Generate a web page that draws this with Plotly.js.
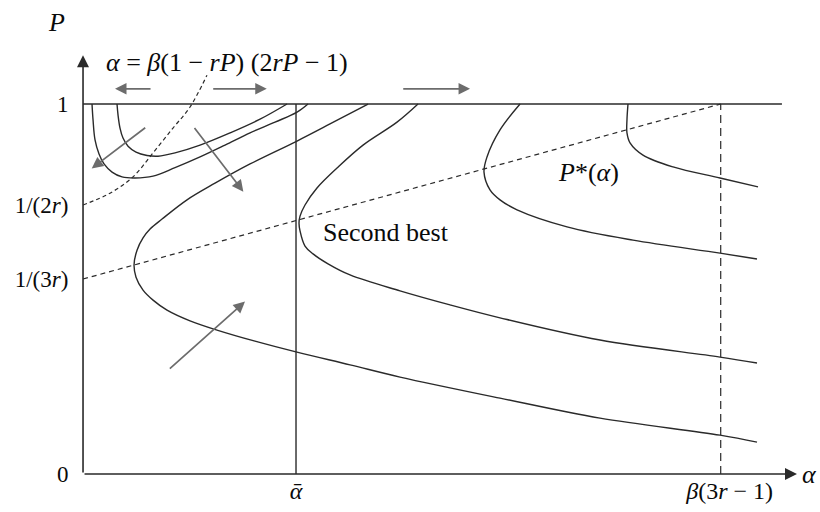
<!DOCTYPE html>
<html>
<head>
<meta charset="utf-8">
<script src="https://cdn.plot.ly/plotly-3.0.1.min.js"></script>
<style>
  html, body { margin: 0; padding: 0; background: #fff; }
  #chart { width: 820px; height: 512px; }
</style>
</head>
<body>
<div id="chart"></div>
<script>
// Reference levels on the axes
const alphaBar = 0.334;      // ᾱ
const alphaHigh = 1.0;       // β(3r − 1)
const pHalf = 0.727;         // 1/(2r)
const pThird = 0.527;        // 1/(3r)
const topLineEnd = 1.096;

const yTickVals = [0, pThird, pHalf, 1];
const yTickText = ['0', '1/(3<i>r</i>)', '1/(2<i>r</i>)', '1'];
const xTickVals = [alphaBar, alphaHigh];
const xTickText = ['<i>ᾱ</i>', '&nbsp;&nbsp;&nbsp;<i>β</i>(3<i>r</i> − 1)'];

// Threshold curve α = β(1 − rP)(2rP − 1)
const thrX = [0, 0.0423, 0.0784, 0.1098, 0.1411, 0.1678, 0.1944];
const thrP = [0.727, 0.759, 0.803, 0.868, 0.935, 0.992, 1.078];

// Iso-curves, each listed from its end on P = 1
const uOuterX = [0.0141, 0.0157, 0.0188, 0.0251, 0.0329, 0.0455, 0.0612, 0.0815, 0.1098, 0.1443, 0.1835, 0.2227, 0.2619, 0.3011, 0.3356, 0.3528];
const uOuterP = [1.0, 0.957, 0.903, 0.865, 0.838, 0.816, 0.803, 0.800, 0.805, 0.828, 0.857, 0.889, 0.922, 0.951, 0.978, 1.0];

const uInnerX = [0.0533, 0.0549, 0.0580, 0.0627, 0.0706, 0.0831, 0.1004, 0.1176, 0.1443, 0.1835, 0.2305, 0.2776, 0.3199];
const uInnerP = [1.0, 0.970, 0.935, 0.908, 0.886, 0.870, 0.861, 0.859, 0.868, 0.889, 0.922, 0.959, 1.0];

const curveCX = [0.4469, 0.3873, 0.3356, 0.2619, 0.2070, 0.1631, 0.1239, 0.1051, 0.0941, 0.0847, 0.0800, 0.0831, 0.0941, 0.1098, 0.1317, 0.1678, 0.2101, 0.2697, 0.3340, 0.4187, 0.4971, 0.6539, 0.8107, 0.9989, 1.0569];
const curveCP = [1.0, 0.946, 0.900, 0.838, 0.786, 0.741, 0.689, 0.662, 0.638, 0.605, 0.565, 0.532, 0.497, 0.470, 0.443, 0.414, 0.389, 0.359, 0.330, 0.295, 0.262, 0.205, 0.151, 0.105, 0.086];

const curveDX = [0.5253, 0.4924, 0.4391, 0.3983, 0.3669, 0.3481, 0.3403, 0.3387, 0.3403, 0.3481, 0.3607, 0.3842, 0.4187, 0.4971, 0.5755, 0.6539, 0.8107, 0.9989, 1.0569];
const curveDP = [1.0, 0.951, 0.889, 0.827, 0.773, 0.727, 0.697, 0.678, 0.657, 0.616, 0.595, 0.568, 0.538, 0.495, 0.457, 0.422, 0.362, 0.316, 0.300];

const curveEX = [0.6853, 0.6539, 0.6335, 0.6288, 0.6382, 0.6539, 0.6806, 0.7590, 0.8625, 0.9989, 1.0569];
const curveEP = [1.0, 0.930, 0.857, 0.816, 0.768, 0.741, 0.714, 0.668, 0.632, 0.597, 0.581];

const curveFX = [0.8546, 0.8530, 0.8530, 0.8578, 0.8781, 0.9252, 0.9989, 1.0585];
const curveFP = [1.0, 0.957, 0.922, 0.895, 0.862, 0.830, 0.800, 0.776];

// Direction-of-motion arrows: [tailX, tailP, headX, headP]
const flowArrows = [
  [0.1082, 1.041, 0.0502, 1.041],
  [0.2018, 1.041, 0.2881, 1.041],
  [0.4998, 1.041, 0.6069, 1.041],
  [0.0999, 0.939, 0.0136, 0.826],
  [0.1730, 0.939, 0.2514, 0.763],
  [0.1338, 0.281, 0.2540, 0.466]
];

const ink = '#2a2a2a';
const textInk = '#0a0a0a';
const serif = '"Liberation Serif", "Times New Roman", "DejaVu Serif", serif';

function solid(x, y, shape) {
  return { x, y, type: 'scatter', mode: 'lines', hoverinfo: 'skip',
           line: { color: ink, width: 1.4, shape: shape || 'spline', smoothing: 1 } };
}
function dashed(x, y, dash, shape) {
  return { x, y, type: 'scatter', mode: 'lines', hoverinfo: 'skip',
           line: { color: ink, width: 1.2, dash, shape: shape || 'linear', smoothing: 1 } };
}

const traces = [
  solid([0, topLineEnd], [1, 1], 'linear'),
  solid([alphaBar, alphaBar], [0, 1], 'linear'),
  dashed([alphaHigh, alphaHigh], [0, 1], '8px,5px'),
  dashed([0, alphaHigh], [pThird, 1], '5px,4px'),
  dashed(thrX, thrP, '4px,3px', 'spline'),
  solid(uOuterX, uOuterP),
  solid(uInnerX, uInnerP),
  solid(curveCX, curveCP),
  solid(curveDX, curveDP),
  solid(curveEX, curveEP),
  solid(curveFX, curveFP)
];

function arrow(tx, ty, hx, hy, color, width, size) {
  return { x: hx, y: hy, ax: tx, ay: ty, xref: 'x', yref: 'y', axref: 'x', ayref: 'y',
           text: '', showarrow: true, arrowhead: 2, arrowsize: size,
           arrowwidth: width, arrowcolor: color, standoff: 0 };
}
function label(x, y, text, xanchor, size) {
  return { x, y, xref: 'x', yref: 'y', text, showarrow: false, xanchor: xanchor || 'center',
           yanchor: 'middle', font: { family: serif, size: size || 26, color: textInk } };
}

const annotations = [
  arrow(0, 0, 0, 1.132, ink, 1.6, 1.5),
  arrow(0, 0, 1.1196, 0, ink, 1.6, 1.5),
  ...flowArrows.map(a => arrow(a[0], a[1], a[2], a[3], '#6c6c6c', 1.7, 1.35)),
  label(-0.041, 1.219, '<i>P</i>'),
  label(1.1243, 0, '<i>α</i>', 'left'),
  label(0.2258, 1.1135, '<i>α</i> = <i>β</i>(1 − <i>rP</i>) (2<i>rP</i> − 1)'),
  label(0.3733, 0.654, 'Second best', 'left'),
  label(0.7418, 0.816, '<i>P</i>*(<i>α</i>)', 'left')
];

const layout = {
  width: 820, height: 512,
  margin: { l: 0, r: 0, t: 0, b: 0 },
  paper_bgcolor: '#fff', plot_bgcolor: '#fff',
  showlegend: false,
  font: { family: serif, size: 24, color: textInk },
  xaxis: {
    range: [-0.1302, 1.1557], anchor: 'free', position: 38 / 512,
    showgrid: false, zeroline: false, showline: false,
    ticks: '', 
    tickvals: xTickVals, ticktext: xTickText,
    tickfont: { family: serif, size: 24, color: textInk }, fixedrange: true
  },
  yaxis: {
    range: [-0.1027, 1.2811], anchor: 'free', position: 83 / 820,
    showgrid: false, zeroline: false, showline: false,
    ticks: 'outside', ticklen: 10, tickcolor: 'rgba(0,0,0,0)',
    tickvals: yTickVals, ticktext: yTickText,
    tickfont: { family: serif, size: 23, color: textInk }, fixedrange: true
  },
  annotations
};

Plotly.newPlot('chart', traces, layout, { displayModeBar: false, staticPlot: true });
</script>
</body>
</html>
